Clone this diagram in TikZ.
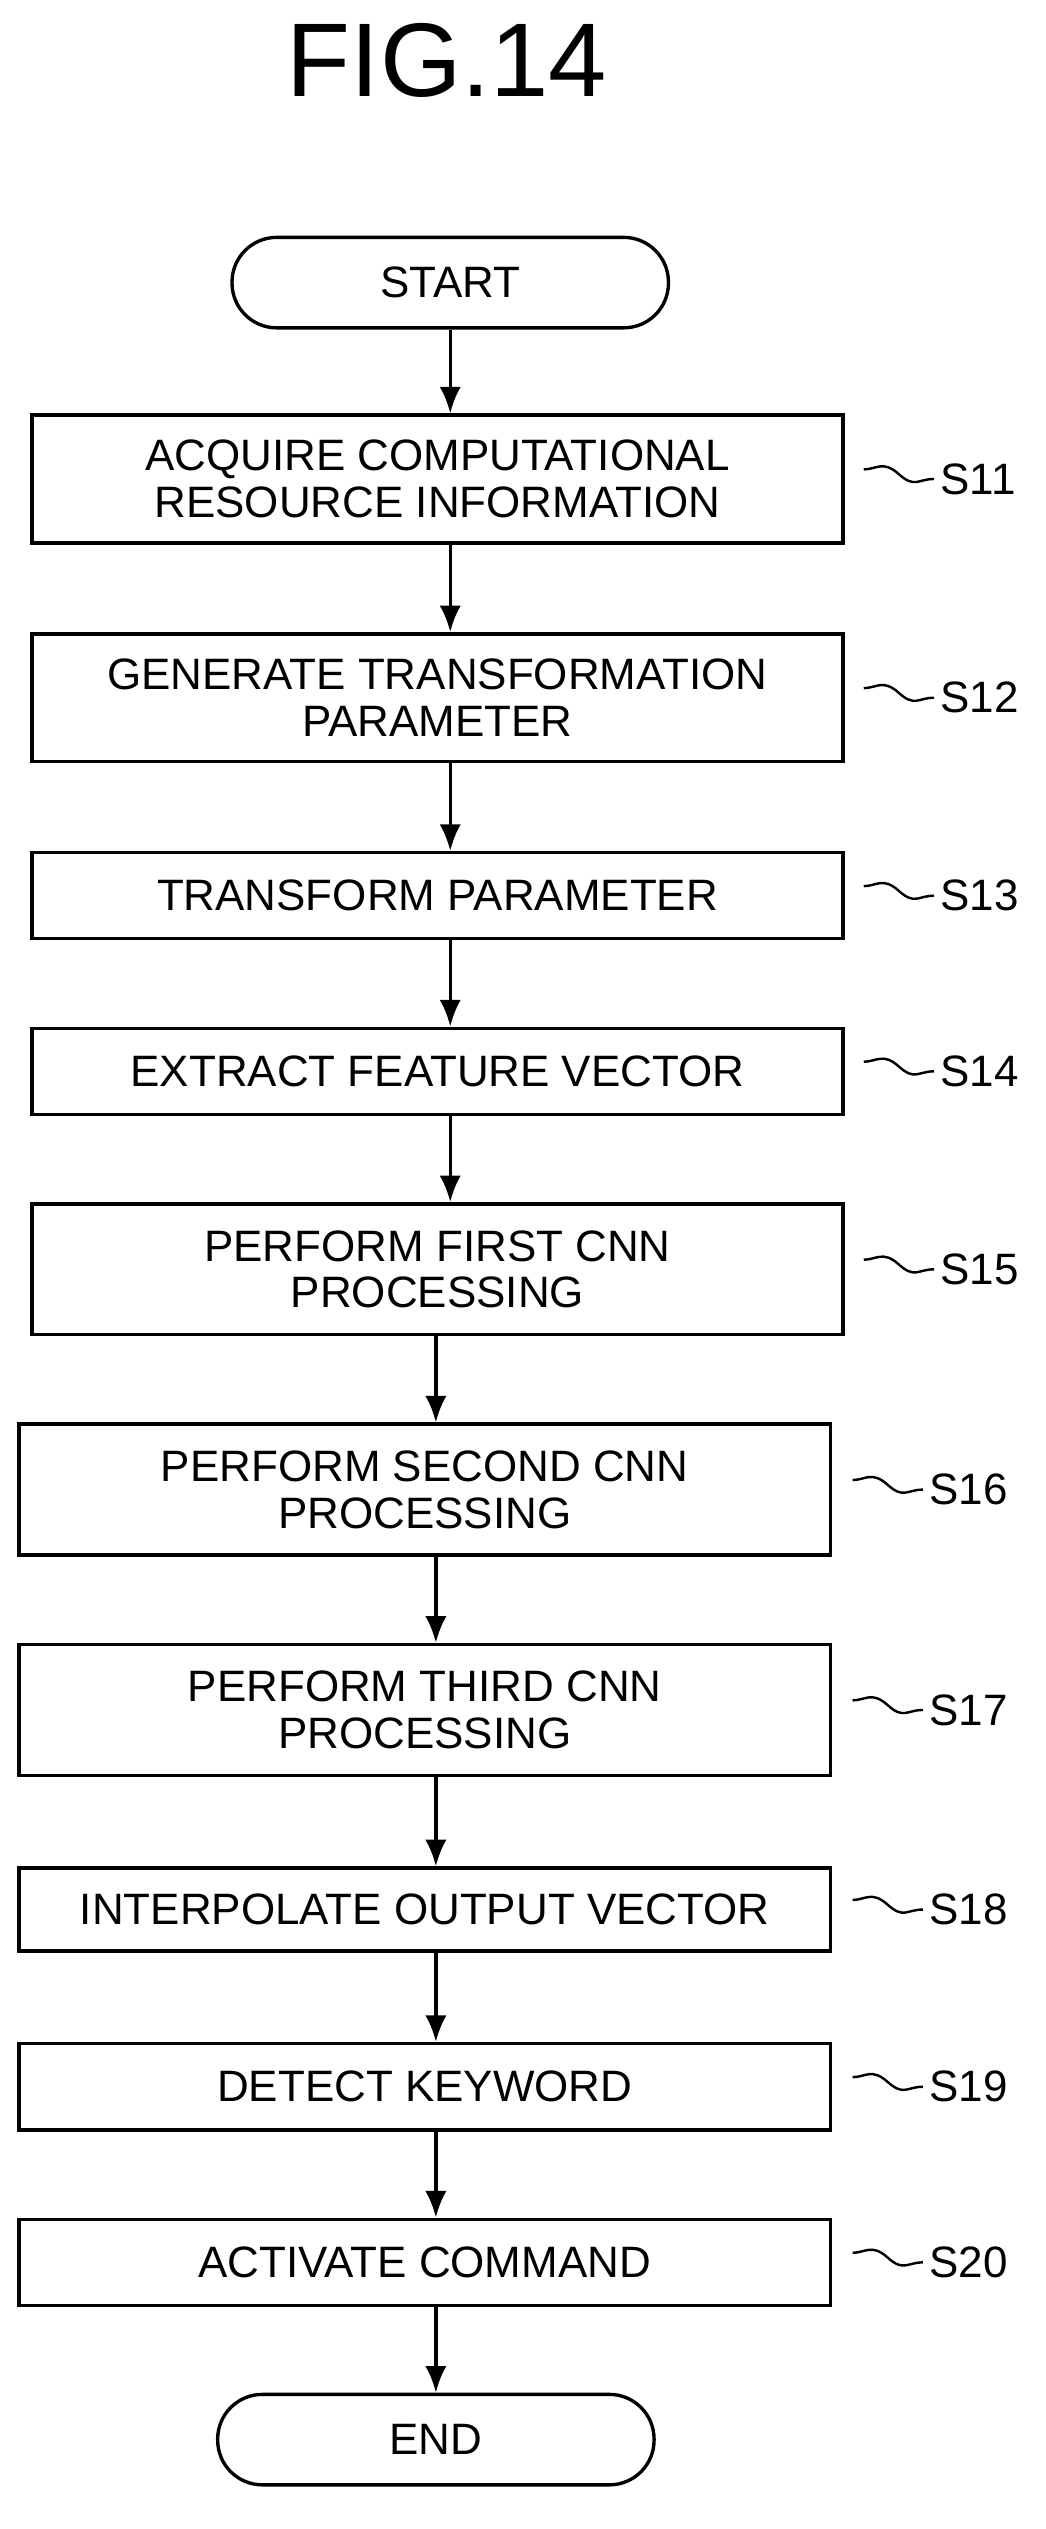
\documentclass[tikz,border=0pt]{standalone}
\usepackage{fontspec}
\setmainfont{Liberation Sans}
\usetikzlibrary{positioning, arrows.meta}
\begin{document}
\begin{tikzpicture}[x=0.03cm, y=-0.03cm,
    box/.style={draw, line width=1.8pt, minimum width=15.24cm, align=center,
        font=\fontsize{23.5}{25}\selectfont},
    term/.style={box, rounded corners=0.84cm, minimum width=8.2cm, minimum height=1.7cm},
    lbl/.style={anchor=west, font=\fontsize{23.5}{25}\selectfont},
    arr/.style={line width=1.8pt, -{Latex[length=0.5cm, width=0.4cm]}},
    wave/.style={line width=1.3pt}]
    \useasboundingbox (0,0) rectangle (655,1584);
    \node[font=\fontsize{56}{58}\selectfont] (title) at (280,38) {FIG.14};
    % upper column
    \node[term] (start) at (282,177) {START};
    \node[box, minimum height=2.4cm] (s11) at (274,300) {ACQUIRE COMPUTATIONAL\\RESOURCE INFORMATION};
    \node[box, minimum height=2.4cm] (s12) at (274,437) {GENERATE TRANSFORMATION\\PARAMETER};
    \node[box, minimum height=1.62cm] (s13) at (274,561) {TRANSFORM PARAMETER};
    \node[box, minimum height=1.62cm] (s14) at (274,671) {EXTRACT FEATURE VECTOR};
    \node[box, minimum height=2.46cm] (s15) at (274,795) {PERFORM FIRST CNN\\PROCESSING};
    % lower column
    \node[box, minimum height=2.46cm] (s16) at (266,933) {PERFORM SECOND CNN\\PROCESSING};
    \node[box, minimum height=2.46cm] (s17) at (266,1071) {PERFORM THIRD CNN\\PROCESSING};
    \node[box, minimum height=1.56cm] (s18) at (266,1196) {INTERPOLATE OUTPUT VECTOR};
    \node[box, minimum height=1.62cm] (s19) at (266,1307) {DETECT KEYWORD};
    \node[box, minimum height=1.62cm] (s20) at (266,1417) {ACTIVATE COMMAND};
    \node[term] (end) at (273,1528) {END};
    % arrows
    \foreach \a/\b in {start/s11, s11/s12, s12/s13, s13/s14, s14/s15}
        \draw[arr] (\a.south -| start.south) -- (\b.north -| start.south);
    \foreach \a/\b in {s15/s16, s16/s17, s17/s18, s18/s19, s19/s20, s20/end}
        \draw[arr] (\a.south -| end.north) -- (\b.north -| end.north);
    % step labels
    \foreach \s/\x in {11/585, 12/585, 13/585, 14/585, 15/585, 16/578, 17/578, 18/578, 19/578, 20/578} {
        \node[lbl] (l\s) at (\x, 0 |- s\s.center) {S\s};
        \draw[wave] (l\s.west) .. controls +(-10,0) and +(10,9) .. ++(-22,-3)
            .. controls +(-10,-9) and +(8,0) .. ++(-22,-3);
    }
\end{tikzpicture}
\end{document}
